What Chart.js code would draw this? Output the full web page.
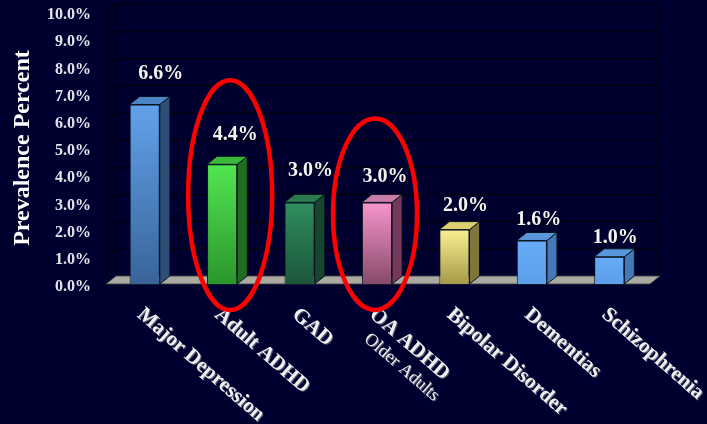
<!DOCTYPE html>
<html>
<head>
<meta charset="utf-8">
<title>Prevalence Percent</title>
<script src="https://cdn.jsdelivr.net/npm/chart.js@4/dist/chart.umd.min.js"></script>
<style>
    html, body { margin: 0; padding: 0; background: #000030; }
    #chart { display: block; }
</style>
</head>
<body>
<canvas id="chart" width="707" height="424"></canvas>
<script>
// prevalence of each disorder, in percent
const categories = ['Major Depression', 'Adult ADHD', 'GAD', 'OA ADHD', 'Bipolar Disorder', 'Dementias', 'Schizophrenia'];
const prevalence = [6.6, 4.4, 3.0, 3.0, 2.0, 1.6, 1.0];
const subLabels = ['', '', '', 'Older Adults', '', '', ''];
const highlighted = ['Adult ADHD', 'OA ADHD'];
const yTicks = [0, 1, 2, 3, 4, 5, 6, 7, 8, 9, 10];

// face colours per bar: front gradient top/bottom, side, top
const faces = [
    { hi: '#62a2ea', lo: '#38649a', side: '#2e4e7a', top: '#4d86c8' },
    { hi: '#52e652', lo: '#2a962a', side: '#1f6e1f', top: '#3aba3a' },
    { hi: '#2f8e5e', lo: '#1c563a', side: '#17462e', top: '#2a7a50' },
    { hi: '#f895cc', lo: '#874a6a', side: '#74395a', top: '#c87ca8' },
    { hi: '#f8f092', lo: '#a69a48', side: '#7e763a', top: '#dcd070' },
    { hi: '#66acf8', lo: '#5c9ee8', side: '#4578b8', top: '#5a96dc' },
    { hi: '#66acf8', lo: '#5c9ee8', side: '#4578b8', top: '#5a96dc' }
];

// nudges for the value labels (dx from bar centre, lift of baseline above bar top)
const labelNudge = [[16, 25], [13, 24], [11, 26], [8, 20], [11, 19], [7, 15], [6, 14]];

const DEPTH_X = 10;
const DEPTH_Y = 8;
const SERIF = '"Liberation Serif", "DejaVu Serif", serif';

function frontFill(context) {
    const chart = context.chart;
    const i = context.dataIndex;
    const f = faces[i];
    if (!chart.chartArea) return f.hi;
    const y = chart.scales.y;
    const g = chart.ctx.createLinearGradient(0, y.getPixelForValue(prevalence[i]), 0, y.getPixelForValue(0));
    g.addColorStop(0, f.hi);
    g.addColorStop(1, f.lo);
    return g;
}

// back wall, left wall and floor
const room = {
    id: 'room',
    beforeDatasetsDraw(chart) {
        const { ctx, chartArea: a, scales: { y } } = chart;
        const base = y.getPixelForValue(0);
        ctx.save();
        ctx.strokeStyle = '#00001a';
        ctx.lineWidth = 2.5;
        yTicks.forEach(v => {
            if (v === 0) return;
            const py = y.getPixelForValue(v);
            ctx.beginPath();
            ctx.moveTo(a.left, py);
            ctx.lineTo(a.left + DEPTH_X, py - DEPTH_Y);
            ctx.lineTo(a.right + DEPTH_X, py - DEPTH_Y);
            ctx.stroke();
        });
        ctx.beginPath();
        ctx.moveTo(a.left + DEPTH_X, y.getPixelForValue(10) - DEPTH_Y);
        ctx.lineTo(a.left + DEPTH_X, base - DEPTH_Y);
        ctx.moveTo(a.left, y.getPixelForValue(10));
        ctx.lineTo(a.left, base);
        ctx.moveTo(a.right + DEPTH_X, y.getPixelForValue(10) - DEPTH_Y);
        ctx.lineTo(a.right + DEPTH_X, base - DEPTH_Y);
        ctx.stroke();

        // floor
        ctx.beginPath();
        ctx.moveTo(a.left, base);
        ctx.lineTo(a.right + 2, base);
        ctx.lineTo(a.right + DEPTH_X + 2, base - DEPTH_Y);
        ctx.lineTo(a.left + DEPTH_X, base - DEPTH_Y);
        ctx.closePath();
        ctx.fillStyle = '#aaa9a2';
        ctx.fill();
        ctx.strokeStyle = '#3a3a3a';
        ctx.lineWidth = 0.8;
        ctx.stroke();
        ctx.restore();
    }
};

// side and top faces of the bars, then the value labels
const bars3d = {
    id: 'bars3d',
    afterDatasetsDraw(chart) {
        const { ctx } = chart;
        const meta = chart.getDatasetMeta(0);
        ctx.save();
        ctx.lineWidth = 1;
        ctx.strokeStyle = '#0b1420';
        meta.data.forEach((bar, i) => {
            const { x, y, base, width } = bar.getProps(['x', 'y', 'base', 'width'], true);
            const x1 = x - width / 2;
            const x2 = x + width / 2;
            ctx.beginPath();
            ctx.moveTo(x2, y);
            ctx.lineTo(x2 + DEPTH_X, y - DEPTH_Y);
            ctx.lineTo(x2 + DEPTH_X, base - DEPTH_Y);
            ctx.lineTo(x2, base);
            ctx.closePath();
            ctx.fillStyle = faces[i].side;
            ctx.fill();
            ctx.stroke();

            ctx.beginPath();
            ctx.moveTo(x1, y);
            ctx.lineTo(x2, y);
            ctx.lineTo(x2 + DEPTH_X, y - DEPTH_Y);
            ctx.lineTo(x1 + DEPTH_X, y - DEPTH_Y);
            ctx.closePath();
            ctx.fillStyle = faces[i].top;
            ctx.fill();
            ctx.stroke();
        });

        ctx.font = 'bold 20px ' + SERIF;
        ctx.fillStyle = '#f4f4f4';
        ctx.textAlign = 'center';
        ctx.textBaseline = 'alphabetic';
        ctx.shadowColor = 'rgba(0,0,0,0.6)';
        ctx.shadowOffsetX = 1;
        ctx.shadowOffsetY = 1;
        meta.data.forEach((bar, i) => {
            const n = labelNudge[i];
            ctx.fillText(prevalence[i].toFixed(1) + '%', bar.x + n[0], bar.y - n[1]);
        });
        ctx.restore();
    }
};

// slanted category names and the highlight rings
const annotations = {
    id: 'annotations',
    afterDraw(chart) {
        const { ctx, scales: { x, y } } = chart;
        const angle = 41 * Math.PI / 180;
        ctx.save();
        ctx.fillStyle = '#f0f0f0';
        ctx.textAlign = 'left';
        ctx.textBaseline = 'top';
        ctx.shadowColor = 'rgba(120,120,140,0.7)';
        ctx.shadowOffsetX = 1;
        ctx.shadowOffsetY = 1;
        categories.forEach((name, i) => {
            const px = x.getPixelForValue(i);
            ctx.save();
            ctx.translate(px + 2, 304);
            ctx.rotate(angle);
            ctx.font = 'bold 21px ' + SERIF;
            ctx.fillText(name, 0, 0);
            if (subLabels[i]) {
                ctx.font = '18px ' + SERIF;
                ctx.fillText(subLabels[i], 12, 24);
            }
            ctx.restore();
        });
        ctx.restore();

        ctx.save();
        ctx.strokeStyle = '#ff0000';
        ctx.lineWidth = 4.5;
        const meta = chart.getDatasetMeta(0);
        const shift = { 'Adult ADHD': 8, 'OA ADHD': -2 };
        highlighted.forEach(name => {
            const i = categories.indexOf(name);
            const bar = meta.data[i];
            const topY = bar.y - 84;
            const bottomY = y.getPixelForValue(0) + 26;
            ctx.beginPath();
            ctx.ellipse(bar.x + shift[name], (topY + bottomY) / 2, 42, (bottomY - topY) / 2, 0, 0, Math.PI * 2);
            ctx.stroke();
        });
        ctx.restore();
    }
};

new Chart(document.getElementById('chart'), {
    type: 'bar',
    data: {
        labels: categories,
        datasets: [{
            data: prevalence,
            backgroundColor: frontFill,
            borderColor: '#0b1420',
            borderWidth: 1,
            barPercentage: 0.39,
            categoryPercentage: 1
        }]
    },
    options: {
        responsive: false,
        devicePixelRatio: 1,
        animation: false,
        layout: { padding: { top: 12, right: 59, bottom: 140, left: 0 } },
        plugins: { legend: { display: false }, tooltip: { enabled: false } },
        scales: {
            x: { display: false },
            y: {
                min: 0,
                max: 10,
                afterFit(scale) {
                    scale.width = 106;
                    scale.paddingTop = 0;
                    scale.paddingBottom = 0;
                },
                afterBuildTicks(scale) { scale.ticks = yTicks.map(v => ({ value: v })); },
                grid: { display: false },
                border: { display: false },
                ticks: {
                    color: '#e4e4ec',
                    padding: 7,
                    labelOffset: 3,
                    font: { family: SERIF, size: 16, weight: 'bold' },
                    callback: v => v.toFixed(1) + '%'
                },
                title: {
                    display: true,
                    text: 'Prevalence Percent',
                    color: '#ffffff',
                    padding: { top: 8, bottom: 0 },
                    font: { family: SERIF, size: 24, weight: 'bold' }
                }
            }
        }
    },
    plugins: [room, bars3d, annotations]
});
</script>
</body>
</html>
